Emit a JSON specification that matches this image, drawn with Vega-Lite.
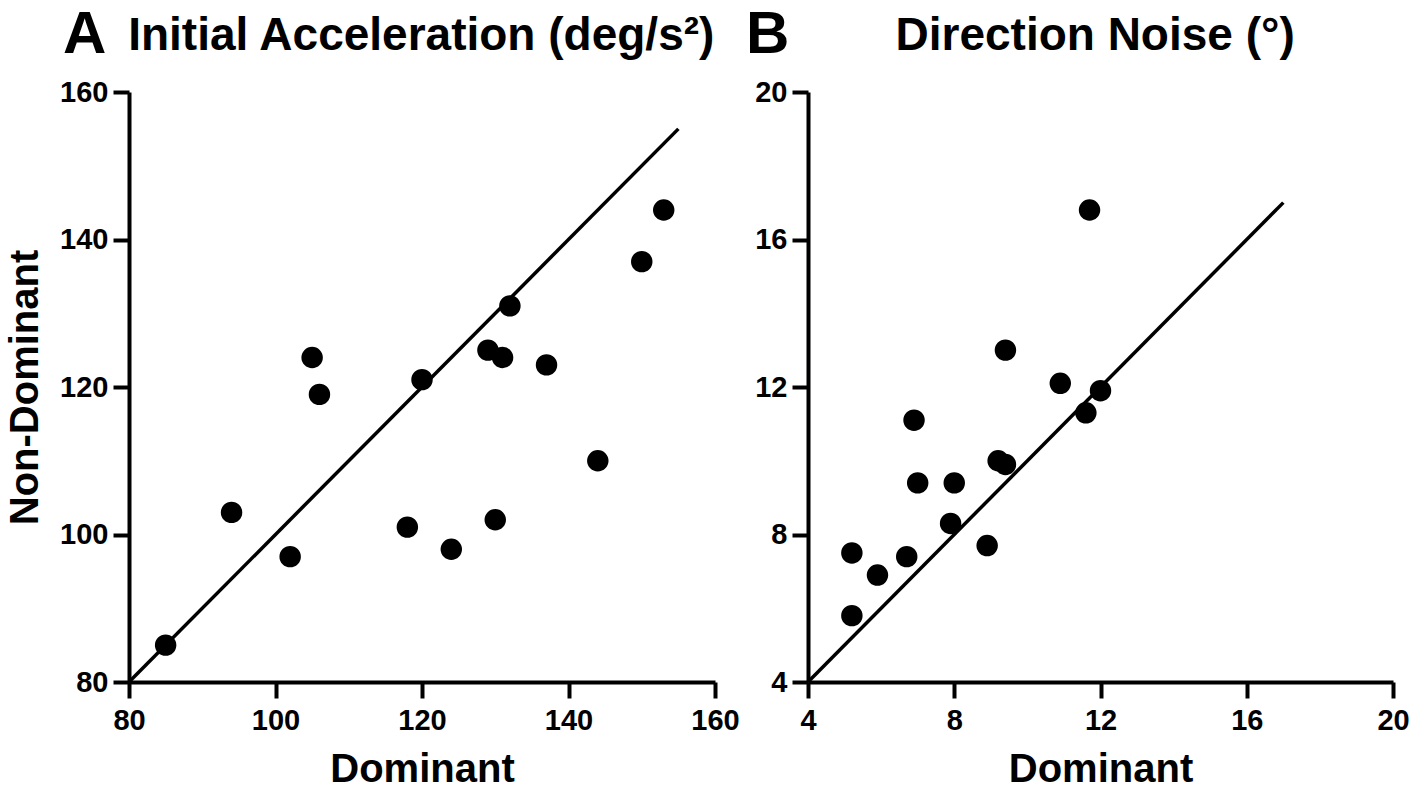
{
  "$schema": "https://vega.github.io/schema/vega-lite/v6.json",
  "background": "white",
  "padding": {"left": 5, "top": 5, "right": 5, "bottom": 5},
  "spacing": 6,
  "datasets": {
    "accel": [
      {"Dominant": 85, "NonDominant": 85},
      {"Dominant": 94, "NonDominant": 103},
      {"Dominant": 102, "NonDominant": 97},
      {"Dominant": 105, "NonDominant": 124},
      {"Dominant": 106, "NonDominant": 119},
      {"Dominant": 118, "NonDominant": 101},
      {"Dominant": 120, "NonDominant": 121},
      {"Dominant": 124, "NonDominant": 98},
      {"Dominant": 129, "NonDominant": 125},
      {"Dominant": 131, "NonDominant": 124},
      {"Dominant": 132, "NonDominant": 131},
      {"Dominant": 130, "NonDominant": 102},
      {"Dominant": 137, "NonDominant": 123},
      {"Dominant": 144, "NonDominant": 110},
      {"Dominant": 150, "NonDominant": 137},
      {"Dominant": 153, "NonDominant": 144}
    ],
    "accelLine": [
      {"Dominant": 80, "NonDominant": 80},
      {"Dominant": 155, "NonDominant": 155}
    ],
    "noise": [
      {"Dominant": 5.2, "NonDominant": 5.8},
      {"Dominant": 5.2, "NonDominant": 7.5},
      {"Dominant": 5.9, "NonDominant": 6.9},
      {"Dominant": 6.7, "NonDominant": 7.4},
      {"Dominant": 6.9, "NonDominant": 11.1},
      {"Dominant": 7.0, "NonDominant": 9.4},
      {"Dominant": 7.9, "NonDominant": 8.3},
      {"Dominant": 8.0, "NonDominant": 9.4},
      {"Dominant": 8.9, "NonDominant": 7.7},
      {"Dominant": 9.2, "NonDominant": 10.0},
      {"Dominant": 9.4, "NonDominant": 9.9},
      {"Dominant": 9.4, "NonDominant": 13.0},
      {"Dominant": 10.9, "NonDominant": 12.1},
      {"Dominant": 11.6, "NonDominant": 11.3},
      {"Dominant": 12.0, "NonDominant": 11.9},
      {"Dominant": 11.7, "NonDominant": 16.8}
    ],
    "noiseLine": [
      {"Dominant": 4, "NonDominant": 4},
      {"Dominant": 17, "NonDominant": 17}
    ]
  },
  "hconcat": [
    {
      "width": 586,
      "height": 590,
      "title": {
        "text": "A",
        "subtitle": "\u200B\u2002\u2002\u2005\u2006Initial Acceleration (deg/s²)",
        "anchor": "start",
        "frame": "group",
        "dx": -66
      },
      "layer": [
        {
          "data": {"name": "accelLine"},
          "mark": {"type": "line", "color": "black", "strokeWidth": 3.5},
          "encoding": {
            "x": {"field": "Dominant", "type": "quantitative", "scale": {"domain": [80, 160], "nice": false, "zero": false}, "axis": {"values": [80, 100, 120, 140, 160], "title": "Dominant"}},
            "y": {"field": "NonDominant", "type": "quantitative", "scale": {"domain": [80, 160], "nice": false, "zero": false}, "axis": {"values": [80, 100, 120, 140, 160], "title": "Non-Dominant"}}
          }
        },
        {
          "data": {"name": "accel"},
          "mark": {"type": "circle", "size": 460, "color": "black", "opacity": 1},
          "encoding": {
            "x": {"field": "Dominant", "type": "quantitative"},
            "y": {"field": "NonDominant", "type": "quantitative"}
          }
        }
      ]
    },
    {
      "width": 585,
      "height": 590,
      "title": {
        "text": "B",
        "subtitle": "\u200B\u2003\u2003\u2003\u2005Direction Noise (°)",
        "anchor": "start",
        "frame": "group",
        "dx": -62
      },
      "layer": [
        {
          "data": {"name": "noiseLine"},
          "mark": {"type": "line", "color": "black", "strokeWidth": 3.5},
          "encoding": {
            "x": {"field": "Dominant", "type": "quantitative", "scale": {"domain": [4, 20], "nice": false, "zero": false}, "axis": {"values": [4, 8, 12, 16, 20], "title": "Dominant"}},
            "y": {"field": "NonDominant", "type": "quantitative", "scale": {"domain": [4, 20], "nice": false, "zero": false}, "axis": {"values": [4, 8, 12, 16, 20], "title": null}}
          }
        },
        {
          "data": {"name": "noise"},
          "mark": {"type": "circle", "size": 460, "color": "black", "opacity": 1},
          "encoding": {
            "x": {"field": "Dominant", "type": "quantitative"},
            "y": {"field": "NonDominant", "type": "quantitative"}
          }
        }
      ]
    }
  ],
  "config": {
    "view": {"stroke": null},
    "font": "Liberation Sans",
    "axis": {
      "grid": false,
      "domainColor": "black",
      "domainWidth": 4,
      "tickColor": "black",
      "tickWidth": 4,
      "tickSize": 16,
      "labelFont": "Liberation Sans",
      "labelFontSize": 29,
      "labelFontWeight": "bold",
      "labelColor": "black",
      "labelFlush": false,
      "labelOverlap": false,
      "titleFont": "Liberation Sans",
      "titleFontSize": 40,
      "titleFontWeight": "bold",
      "titleColor": "black"
    },
    "axisX": {"titlePadding": 14, "labelPadding": 8},
    "axisY": {"titlePadding": 14, "labelPadding": 5},
    "title": {
      "font": "Liberation Sans",
      "fontSize": 60,
      "fontWeight": "bold",
      "color": "black",
      "subtitleFont": "Liberation Sans",
      "subtitleFontSize": 46,
      "subtitleFontWeight": "bold",
      "subtitleColor": "black",
      "subtitlePadding": -52,
      "offset": 12
    }
  }
}
